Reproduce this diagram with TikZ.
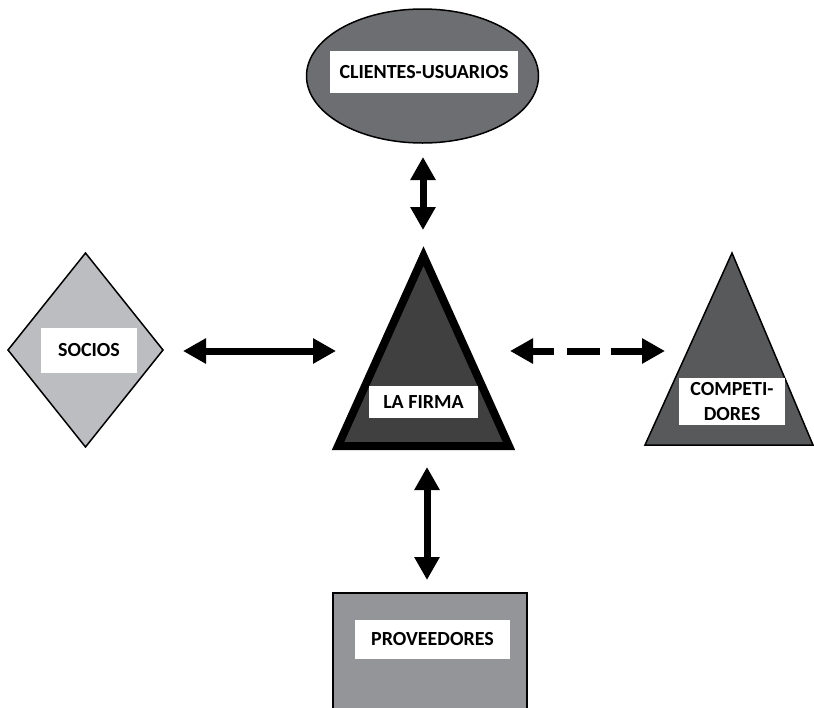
\documentclass[tikz,border=0pt]{standalone}
\usepackage{fontspec}
\setmainfont{Carlito}
\usetikzlibrary{arrows.meta}
\definecolor{cliente}{RGB}{109,110,113}
\definecolor{firma}{RGB}{64,64,64}
\definecolor{socio}{RGB}{188,189,192}
\definecolor{compet}{RGB}{88,89,91}
\definecolor{prov}{RGB}{147,149,152}
\tikzset{
  lbl/.style={fill=white, inner sep=0pt, align=center, font=\fontsize{20}{25}\selectfont\bfseries},
  shp/.style={draw=black, line width=1.5pt},
  bigarrow/.style={line width=7pt, {Triangle[length=23pt,width=24pt]}-{Triangle[length=23pt,width=24pt]}}
}
\begin{document}
\begin{tikzpicture}[x=1pt,y=-1pt]
\useasboundingbox (0,0) rectangle (814,707);
% shapes
\draw[shp, fill=cliente] (422.5,76) ellipse [x radius=116, y radius=67];
\draw[fill=firma, line width=8pt, line join=miter] (423.5,256) -- (509,446) -- (338,446) -- cycle;
\draw[shp, fill=socio] (85.5,253) -- (163,350) -- (85.5,447) -- (8,350) -- cycle;
\draw[shp, fill=compet] (732,253) -- (813,445) -- (645,445) -- cycle;
\draw[line width=2pt, fill=prov] (333,712) -- (333,593) -- (527,593) -- (527,712);
% labels
\node[lbl, minimum width=188pt, minimum height=42pt] (cli) at (424,72) {CLIENTES-USUARIOS};
\node[lbl, minimum width=109pt, minimum height=32pt] (fir) at (423.5,402) {LA FIRMA};
\node[lbl, minimum width=96pt, minimum height=45pt] (soc) at (89,350.5) {SOCIOS};
\node[lbl, minimum width=106pt, minimum height=47pt] (com) at (732,401.5) {COMPETI-\\DORES};
\node[lbl, minimum width=155pt, minimum height=39pt] (pro) at (432.5,639.5) {PROVEEDORES};
% arrow ends
\coordinate (t1) at (423,157);
\coordinate (t2) at (423,230);
\coordinate (l1) at (183,351);
\coordinate (l2) at (336,351);
\coordinate (r1) at (510,351);
\coordinate (r2) at (665,351);
\coordinate (b1) at (427,467);
\coordinate (b2) at (427,580);
\draw[bigarrow] (t1) -- (t2);
\draw[bigarrow] (l1) -- (l2);
\draw[bigarrow] (b1) -- (b2);
\draw[bigarrow, dash pattern=on 22pt off 13pt on 33pt off 11pt on 40pt] (r1) -- (r2);
\end{tikzpicture}
\end{document}
